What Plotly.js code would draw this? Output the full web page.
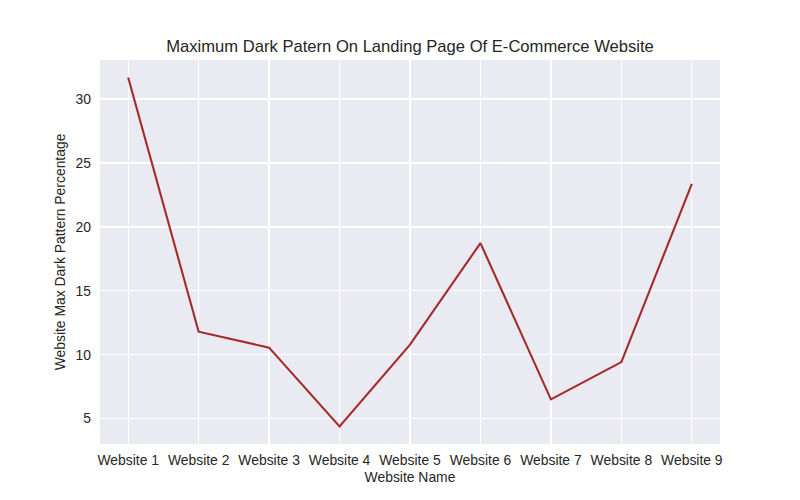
<!DOCTYPE html>
<html>
<head>
<meta charset="utf-8">
<script src="https://cdn.plot.ly/plotly-3.0.1.min.js"></script>
<style>html,body{margin:0;padding:0;background:#fff;}#chart{width:800px;height:500px;}</style>
</head>
<body>
<div id="chart"></div>
<script>
const websites = ["Website 1","Website 2","Website 3","Website 4","Website 5","Website 6","Website 7","Website 8","Website 9"];
const maxDarkPattern = [31.69, 11.8, 10.55, 4.38, 10.78, 18.73, 6.5, 9.42, 23.36];
const yTicks = [5, 10, 15, 20, 25, 30];

const trace = {
  x: websites,
  y: maxDarkPattern,
  type: "scatter",
  mode: "lines",
  line: {color: "#A52A2A", width: 2.1},
  hoverinfo: "x+y"
};

const font = {family: "Liberation Sans, Arial, sans-serif", color: "#262626", size: 13.9};

const layout = {
  width: 800, height: 500,
  paper_bgcolor: "#ffffff",
  plot_bgcolor: "#EAEAF2",
  margin: {l: 100, r: 80, t: 60, b: 56, pad: 0},
  font: font,
  showlegend: false,
  title: {text: "Maximum Dark Patern On Landing Page Of E-Commerce Website", font: {family: font.family, size: 16.6, color: "#262626"}, xref: "paper", x: 0.5, xanchor: "center", y: 0.908, yanchor: "middle"},
  xaxis: {
    type: "category",
    range: [-0.4, 8.4],
    showgrid: true, gridcolor: "#ffffff", gridwidth: 1.3,
    zeroline: false, showline: false, ticks: "",
    ticklabelstandoff: 6,
    tickfont: font,
    title: {text: "Website Name", font: font, standoff: 5}
  },
  yaxis: {
    range: [3.01, 33.06],
    tickvals: yTicks,
    showgrid: true, gridcolor: "#ffffff", gridwidth: 1.3,
    zeroline: false, showline: false, ticks: "",
    ticklabelstandoff: 8,
    tickfont: font,
    title: {text: "Website Max Dark Pattern Percentage", font: font, standoff: 6}
  }
};

Plotly.newPlot("chart", [trace], layout, {displayModeBar: false, staticPlot: true});
</script>
</body>
</html>
